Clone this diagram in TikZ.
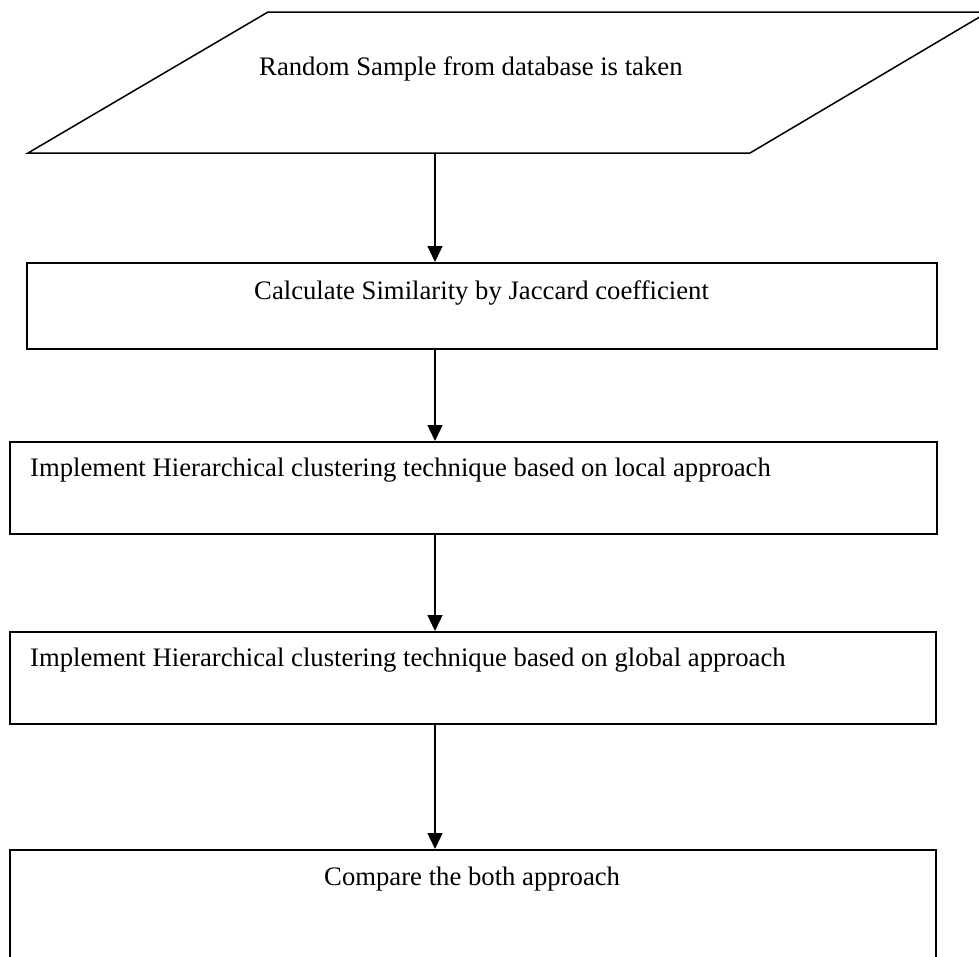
\documentclass[tikz,border=0pt]{standalone}
\usepackage{fontspec}
\setmainfont{Liberation Serif}
\usetikzlibrary{arrows.meta}
\begin{document}
\begin{tikzpicture}[x=1pt,y=-1pt,
  stepbox/.style={draw=black,line width=1.5pt,rectangle,inner sep=0pt,anchor=north west},
  lbl/.style={inner sep=0pt,anchor=base west,font=\fontsize{26.7}{30}\selectfont},
  arr/.style={draw=black,line width=1.3pt,-{Triangle[length=16pt,width=15pt]}}]
\useasboundingbox (0,0) rectangle (979,956);
\clip (0,0) rectangle (979,956);
% parallelogram
\draw[line width=1.5pt] (28,153) -- (268,12) -- (988,12) -- (750,153) -- cycle;
\coordinate (pbot) at (435,153);
\node[lbl] (t0) at (259,75) {Random Sample from database is taken};
% boxes
\node[stepbox,minimum width=910pt,minimum height=86pt] (b1) at (26,262) {};
\node[lbl] (t1) at (254,299) {Calculate Similarity by Jaccard coefficient};
\node[stepbox,minimum width=927pt,minimum height=92pt] (b2) at (9,441) {};
\node[lbl] (t2) at (30,476) {Implement Hierarchical clustering technique based on local approach};
\node[stepbox,minimum width=926pt,minimum height=92pt] (b3) at (9,631) {};
\node[lbl] (t3) at (30,666) {Implement Hierarchical clustering technique based on global approach};
\node[stepbox,minimum width=926pt,minimum height=140pt] (b4) at (9,849) {};
\node[lbl] (t4) at (324,885) {Compare the both approach};
% arrows
\draw[arr] (pbot) -- (pbot |- b1.north);
\draw[arr] (pbot |- b1.south) -- (pbot |- b2.north);
\draw[arr] (pbot |- b2.south) -- (pbot |- b3.north);
\draw[arr] (pbot |- b3.south) -- (pbot |- b4.north);
\end{tikzpicture}
\end{document}
